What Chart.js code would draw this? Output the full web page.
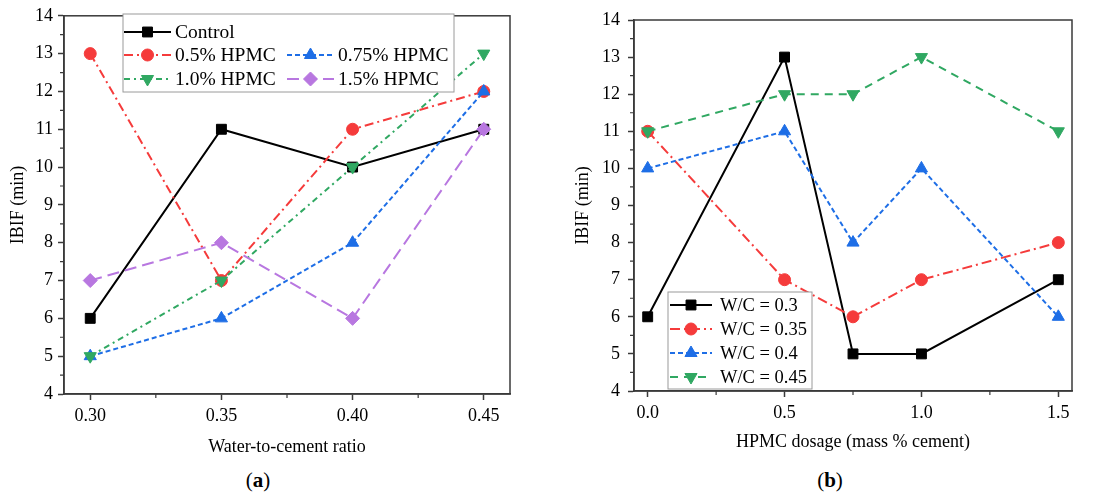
<!DOCTYPE html>
<html>
<head>
<meta charset="utf-8">
<script src="https://cdn.jsdelivr.net/npm/chart.js@4/dist/chart.umd.min.js"></script>
<style>
  body { margin: 0; background: #fff; width: 1099px; height: 495px; position: relative; overflow: hidden; }
  canvas { position: absolute; top: 0; }
  #chartA { left: 0; }
  #chartB { left: 560px; }
  .panel { position: absolute; top: 468px; font: 21px "Liberation Serif", serif; transform: translateX(-50%); }
</style>
</head>
<body>
<canvas id="chartA" width="540" height="462"></canvas>
<canvas id="chartB" width="539" height="462"></canvas>
<div class="panel" style="left:258px">(<b>a</b>)</div>
<div class="panel" style="left:830px">(<b>b</b>)</div>
<script>
// panel (a): IBIF vs water-to-cement ratio
const wcRatio = [0.30, 0.35, 0.40, 0.45];
const control = [6, 11, 10, 11];
const hpmc05 = [13, 7, 11, 12];
const hpmc075 = [5, 6, 8, 12];
const hpmc10 = [5, 7, 10, 13];
const hpmc15 = [7, 8, 6, 11];

// panel (b): IBIF vs HPMC dosage
const dosage = [0, 0.5, 0.75, 1.0, 1.5];
const wc030 = [6, 13, 5, 5, 7];
const wc035 = [11, 7, 6, 7, 8];
const wc040 = [10, 11, 8, 10, 6];
const wc045 = [11, 12, 12, 13, 11];

// tick labels
const xTicksA = [0.30, 0.35, 0.40, 0.45];
const xMinorA = [0.325, 0.375, 0.425];
const xTicksB = [0, 0.5, 1.0, 1.5];
const xMinorB = [0.25, 0.75, 1.25];
const yTicks = [4, 5, 6, 7, 8, 9, 10, 11, 12, 13, 14];
const yMinor = [4.5, 5.5, 6.5, 7.5, 8.5, 9.5, 10.5, 11.5, 12.5, 13.5];

const FONT = '"Liberation Serif", "Times New Roman", serif';
const AXIS = '#3a3a3a';

const toPoints = (xs, ys) => xs.map((x, i) => ({ x, y: ys[i] }));

function series(label, xs, ys, color, dash, style, radius, rotation) {
    return {
        label, data: toPoints(xs, ys),
        borderColor: color, backgroundColor: color, pointBackgroundColor: color, pointBorderColor: color,
        borderWidth: 2, borderDash: dash, pointStyle: style, pointRadius: radius, pointRotation: rotation || 0,
        pointBorderWidth: 1, tension: 0, fill: false
    };
}

// box around plot area + short minor ticks
const frame = {
    id: 'frame',
    beforeDatasetsDraw(chart, args, opts) {
        const { ctx, chartArea: a, scales } = chart;
        ctx.save();
        ctx.strokeStyle = AXIS; ctx.lineWidth = 1.5;
        ctx.strokeRect(a.left, a.top, a.right - a.left, a.bottom - a.top);
        ctx.lineWidth = 1.2;
        ctx.beginPath();
        opts.xMinor.forEach(v => { const px = scales.x.getPixelForValue(v); ctx.moveTo(px, a.bottom); ctx.lineTo(px, a.bottom + 4); });
        opts.yMinor.forEach(v => { const py = scales.y.getPixelForValue(v); ctx.moveTo(a.left, py); ctx.lineTo(a.left - 4, py); });
        ctx.stroke();
        ctx.restore();
    }
};

// legend drawn inside the plot, laid out like the figure
const legendBox = {
    id: 'legendBox',
    afterDraw(chart, args, opts) {
        const ctx = chart.ctx;
        const b = opts.box;
        ctx.save();
        ctx.fillStyle = '#fff'; ctx.strokeStyle = '#9a9a9a'; ctx.lineWidth = 1;
        ctx.fillRect(b[0], b[1], b[2] - b[0], b[3] - b[1]);
        ctx.strokeRect(b[0], b[1], b[2] - b[0], b[3] - b[1]);
        opts.items.forEach(it => {
            const ds = chart.data.datasets[it.index];
            ctx.strokeStyle = ds.borderColor; ctx.lineWidth = ds.borderWidth;
            ctx.setLineDash(ds.borderDash || []);
            ctx.beginPath(); ctx.moveTo(it.x, it.y); ctx.lineTo(it.x + opts.lineLen, it.y); ctx.stroke();
            ctx.setLineDash([]);
            ctx.fillStyle = ds.pointBackgroundColor; ctx.strokeStyle = ds.pointBorderColor; ctx.lineWidth = 1;
            Chart.helpers.drawPoint(ctx, { pointStyle: ds.pointStyle, radius: ds.pointRadius, rotation: ds.pointRotation, borderWidth: 1 }, it.x + opts.lineLen / 2, it.y);
            ctx.fillStyle = '#000'; ctx.font = opts.fontSize + 'px ' + FONT; ctx.textBaseline = 'middle'; ctx.textAlign = 'left';
            ctx.fillText(ds.label, it.x + opts.lineLen + opts.gap, it.y + 1);
        });
        ctx.restore();
    }
};

function makeChart(canvas, datasets, cfg) {
    datasets.forEach((d, i) => { d.order = datasets.length - i; });
    return new Chart(canvas.getContext('2d'), {
        type: 'line',
        data: { datasets },
        plugins: [frame, legendBox],
        options: {
            responsive: false, animation: false, devicePixelRatio: 1,
            layout: { padding: cfg.padding },
            plugins: {
                legend: { display: false }, tooltip: { enabled: false },
                frame: { xMinor: cfg.xMinor, yMinor: yMinor },
                legendBox: cfg.legend
            },
            scales: {
                x: {
                    type: 'linear', min: cfg.xMin, max: cfg.xMax,
                    afterBuildTicks: s => { s.ticks = cfg.xTicks.map(v => ({ value: v })); },
                    afterFit: s => { s.height = cfg.xHeight; },
                    ticks: { color: '#000', font: { family: FONT, size: 18 }, padding: 5, maxRotation: 0, callback: v => v.toFixed(cfg.xDigits) },
                    grid: { drawOnChartArea: false, drawTicks: true, tickLength: 6, tickColor: AXIS, tickWidth: 1.5 },
                    border: { display: true, color: AXIS, width: 1.5 },
                    title: { display: true, text: cfg.xTitle, color: '#000', font: { family: FONT, size: 18 }, padding: { top: 0, bottom: cfg.xTitlePad } }
                },
                y: {
                    min: 4, max: 14,
                    afterBuildTicks: s => { s.ticks = yTicks.map(v => ({ value: v })); },
                    afterFit: s => { s.width = cfg.yWidth; },
                    ticks: { color: '#000', font: { family: FONT, size: 18 }, padding: cfg.yTickPad, callback: v => String(v) },
                    grid: { drawOnChartArea: false, drawTicks: true, tickLength: 6, tickColor: AXIS, tickWidth: 1.5 },
                    border: { display: true, color: AXIS, width: 1.5 },
                    title: { display: true, text: 'IBIF (min)', color: '#000', font: { family: FONT, size: 18 }, padding: { top: cfg.yTitlePad, bottom: 0 } }
                }
            }
        }
    });
}

const RED = '#f53b3b', BLUE = '#1e6ee6', GREEN = '#30a862', PURPLE = '#b877e0';

makeChart(document.getElementById('chartA'), [
    series('Control', wcRatio, control, '#000', [], 'rect', 7),
    series('0.5% HPMC', wcRatio, hpmc05, RED, [9, 4, 2, 4], 'circle', 6),
    series('0.75% HPMC', wcRatio, hpmc075, BLUE, [5, 3], 'triangle', 7),
    series('1.0% HPMC', wcRatio, hpmc10, GREEN, [6, 4, 2, 4], 'triangle', 7, 180),
    series('1.5% HPMC', wcRatio, hpmc15, PURPLE, [12, 6], 'rectRot', 7)
], {
    padding: { top: 15, right: 30, bottom: 0, left: 0 },
    xMin: 0.29, xMax: 0.46, xTicks: xTicksA, xMinor: xMinorA, xDigits: 2,
    xHeight: 68, xTitle: 'Water-to-cement ratio', xTitlePad: 4,
    yWidth: 64, yTickPad: 5, yTitlePad: 7,
    legend: {
        box: [123, 14, 454, 92], lineLen: 47, gap: 4, fontSize: 19.5,
        items: [
            { index: 0, x: 124, y: 32 },
            { index: 1, x: 124, y: 55 },
            { index: 2, x: 287, y: 55 },
            { index: 3, x: 124, y: 79 },
            { index: 4, x: 287, y: 79 }
        ]
    }
});

makeChart(document.getElementById('chartB'), [
    series('W/C = 0.3', dosage, wc030, '#000', [], 'rect', 7),
    series('W/C = 0.35', dosage, wc035, RED, [10, 4, 2, 4], 'circle', 6),
    series('W/C = 0.4', dosage, wc040, BLUE, [5, 3], 'triangle', 7),
    series('W/C = 0.45', dosage, wc045, GREEN, [8, 6], 'triangle', 7, 180)
], {
    padding: { top: 20, right: 27, bottom: 0, left: 0 },
    xMin: -0.05, xMax: 1.55, xTicks: xTicksB, xMinor: xMinorB, xDigits: 1,
    xHeight: 71, xTitle: 'HPMC dosage (mass % cement)', xTitlePad: 9,
    yWidth: 74, yTickPad: 8, yTitlePad: 12,
    legend: {
        box: [108, 292, 252, 389], lineLen: 42, gap: 8, fontSize: 18.5,
        items: [
            { index: 0, x: 110, y: 305 },
            { index: 1, x: 110, y: 329 },
            { index: 2, x: 110, y: 353 },
            { index: 3, x: 110, y: 377 }
        ]
    }
});
</script>
</body>
</html>
